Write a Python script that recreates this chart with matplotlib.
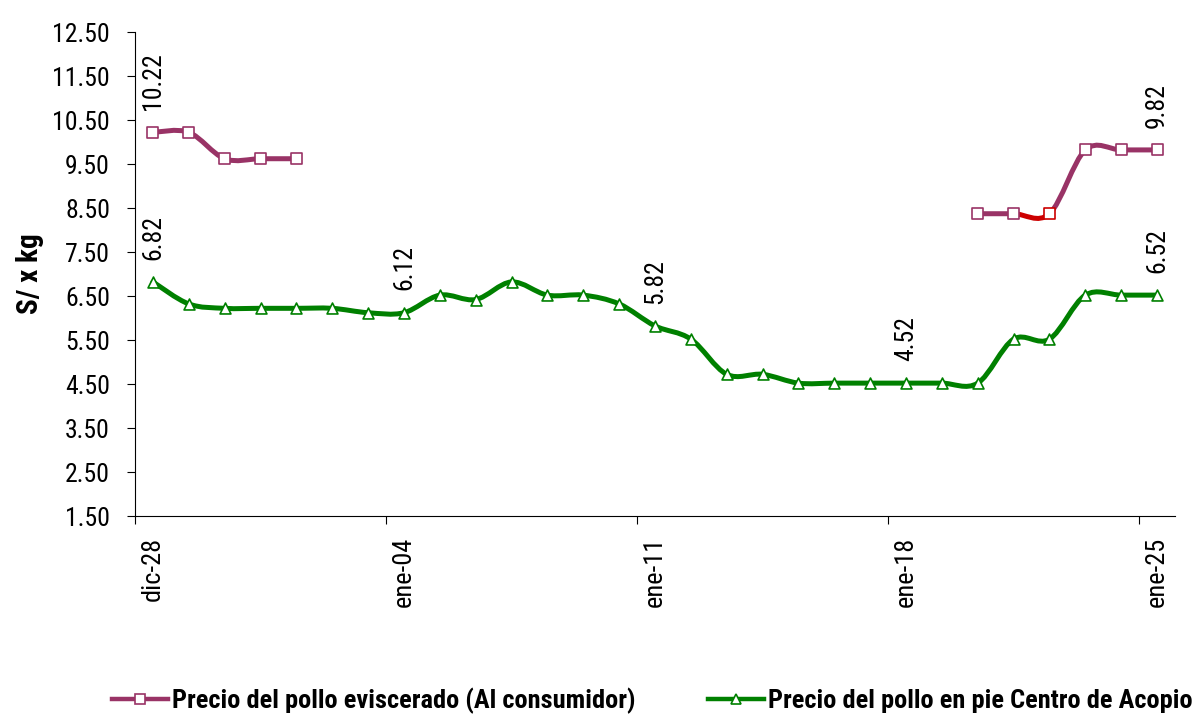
import numpy as np
import matplotlib
matplotlib.use("Agg")
import matplotlib.pyplot as plt
from matplotlib.path import Path
from matplotlib.patches import PathPatch
from matplotlib.lines import Line2D

# === 1. Datos ===
fechas = ["dic-28", "dic-29", "dic-30", "dic-31", "ene-01", "ene-02", "ene-03",
          "ene-04", "ene-05", "ene-06", "ene-07", "ene-08", "ene-09", "ene-10",
          "ene-11", "ene-12", "ene-13", "ene-14", "ene-15", "ene-16", "ene-17",
          "ene-18", "ene-19", "ene-20", "ene-21", "ene-22", "ene-23", "ene-24",
          "ene-25"]
nan = np.nan
eviscerado = [10.22, 10.22, 9.62, 9.62, 9.62,
              nan, nan, nan, nan, nan, nan, nan, nan, nan, nan, nan, nan, nan,
              nan, nan, nan, nan, nan,
              8.37, 8.37, 8.37, 9.82, 9.82, 9.82]
en_pie = [6.82, 6.32, 6.22, 6.22, 6.22, 6.22, 6.12, 6.12, 6.52, 6.42, 6.82,
          6.52, 6.52, 6.32, 5.82, 5.52, 4.72, 4.72, 4.52, 4.52, 4.52, 4.52,
          4.52, 4.52, 5.52, 5.52, 6.52, 6.52, 6.52]
etiquetas_pie = ["dic-28", "ene-04", "ene-11", "ene-18", "ene-25"]
etiquetas_evis = ["dic-28", "ene-25"]

# === 2. Estilos ===
MORADO = "#993366"
VERDE = "#008000"
ROJO = "#CC0000"
tramo_rojo = "ene-21"  # tramo que Excel dibuja en rojo (ene-21 -> ene-22)
punto_rojo = "ene-22"

plt.rcParams["font.family"] = ["Roboto Condensed", "DejaVu Sans"]
FS = 18.5


def tramos_suaves(x, y):
    """Curvas Bezier tipo Excel (Catmull-Rom) para cada tramo continuo."""
    x = np.asarray(x, float)
    y = np.asarray(y, float)
    ok = ~np.isnan(y)
    segs = []
    i = 0
    n = len(y)
    while i < n:
        if not ok[i]:
            i += 1
            continue
        j = i
        while j + 1 < n and ok[j + 1]:
            j += 1
        for k in range(i, j):
            k0 = max(k - 1, i)
            k3 = min(k + 2, j)
            p0 = np.array([x[k0], y[k0]])
            p1 = np.array([x[k], y[k]])
            p2 = np.array([x[k + 1], y[k + 1]])
            p3 = np.array([x[k3], y[k3]])
            c1 = p1 + (p2 - p0) / 6.0
            c2 = p2 - (p3 - p1) / 6.0
            segs.append((k, Path([p1, c1, c2, p2],
                                 [Path.MOVETO, Path.CURVE4, Path.CURVE4, Path.CURVE4])))
        i = j + 1
    return segs


# === 3. Figura ===
fig = plt.figure(figsize=(11.95, 7.24), dpi=100)
ax = fig.add_axes([135 / 1195, (724 - 516) / 724, (1175 - 135) / 1195, (516 - 32) / 724])

x = np.arange(len(fechas))

for k, p in tramos_suaves(x, eviscerado):
    col = ROJO if fechas[k] == tramo_rojo else MORADO
    ax.add_patch(PathPatch(p, facecolor="none", edgecolor=col, lw=3.6,
                           capstyle="round", joinstyle="round", zorder=2))
for k, p in tramos_suaves(x, en_pie):
    ax.add_patch(PathPatch(p, facecolor="none", edgecolor=VERDE, lw=3.6,
                           capstyle="round", joinstyle="round", zorder=2))

bordes_evis = [ROJO if f == punto_rojo else MORADO for f in fechas]
ax.scatter(x, eviscerado, marker="s", s=62, facecolors="white",
           edgecolors=bordes_evis, linewidths=1.2, zorder=3)
ax.scatter(x, en_pie, marker="^", s=62, facecolors="white",
           edgecolors=VERDE, linewidths=1.2, zorder=3)

# etiquetas de valores
for f in etiquetas_pie:
    i = fechas.index(f)
    ax.annotate(f"{en_pie[i]:.2f}", (x[i], en_pie[i]), xytext=(0, 16),
                textcoords="offset points", rotation=90, ha="center", va="bottom",
                fontsize=FS)
for f in etiquetas_evis:
    i = fechas.index(f)
    ax.annotate(f"{eviscerado[i]:.2f}", (x[i], eviscerado[i]), xytext=(0, 16),
                textcoords="offset points", rotation=90, ha="center", va="bottom",
                fontsize=FS)

# === 4. Ejes ===
ax.set_xlim(-0.5, len(fechas) - 0.5)
ax.set_ylim(1.5, 12.5)
ax.set_yticks(np.arange(1.5, 12.51, 1.0))
ax.set_yticklabels([f"{v:.2f}" for v in np.arange(1.5, 12.51, 1.0)], fontsize=FS)
ax.tick_params(axis="y", direction="out", length=6, width=0.8, pad=12)

pos_lab = [fechas.index(f) for f in etiquetas_pie]
ax.set_xticks([p - 0.5 for p in pos_lab])
ax.set_xticklabels([])
ax.set_xticks(pos_lab, minor=True)
ax.set_xticklabels(etiquetas_pie, minor=True, rotation=90, fontsize=19)
ax.tick_params(axis="x", which="major", direction="out", length=6, width=0.8)
ax.tick_params(axis="x", which="minor", length=0, pad=15)

for s in ["top", "right"]:
    ax.spines[s].set_visible(False)
for s in ["left", "bottom"]:
    ax.spines[s].set_linewidth(0.8)

ax.set_ylabel("S/ x kg", fontsize=21, fontweight="bold", labelpad=6)

# === 5. Leyenda ===
h1 = Line2D([], [], color=MORADO, lw=3.2, marker="s", ms=7, mfc="white",
            mec=MORADO, mew=1.2)
h2 = Line2D([], [], color=VERDE, lw=3.2, marker="^", ms=7, mfc="white",
            mec=VERDE, mew=1.2)
fig.legend([h1, h2],
           ["Precio del pollo eviscerado (Al consumidor)",
            "Precio del pollo en pie Centro de Acopio"],
           loc="center left", bbox_to_anchor=(112 / 1195, 1 - 701 / 724),
           ncol=2, frameon=False, borderpad=0, borderaxespad=0,
           handlelength=2.12, handletextpad=0.15, columnspacing=2.75,
           prop={"size": 19, "weight": "bold"})

fig.savefig("out.png", dpi=100)
plt.close(fig)
